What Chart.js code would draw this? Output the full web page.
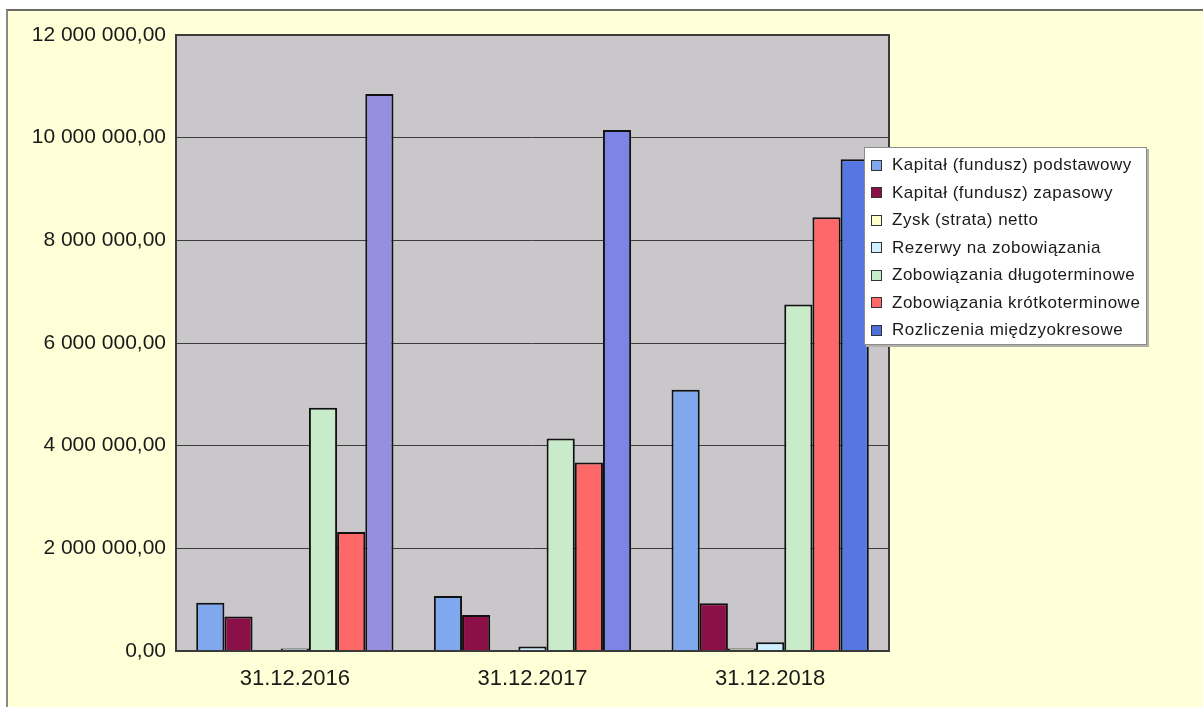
<!DOCTYPE html>
<html lang="pl">
<head>
<meta charset="utf-8">
<title>Pasywa</title>
<script src="https://cdn.jsdelivr.net/npm/chart.js@4.4.1/dist/chart.umd.min.js"></script>
<style>
    html, body { margin: 0; padding: 0; background: #fff; }
    body { width: 1203px; height: 707px; position: relative; overflow: hidden; font-family: "Liberation Sans", Arial, sans-serif; }
    .frame { position: absolute; left: 6px; top: 9px; right: 0; bottom: 0; background: #ffffd8; border-top: 2px solid #6a6a62; border-left: 2px solid #8a8a80; }
    #chart { position: absolute; left: 0; top: 0; }
    .legend { position: absolute; left: 864px; top: 147px; width: 281px; height: 196px; background: #fff; border: 1px solid #8c8c8c; box-shadow: 2px 2px 0 #b0b0a8; }
    .legend-item { position: absolute; left: 0; height: 20px; display: flex; align-items: center; font-size: 17px; color: #1a1a1a; letter-spacing: 0.5px; white-space: nowrap; }
    .legend-color { width: 9px; height: 9px; border: 1px solid #333; margin: 0 10px 0 6px; }
</style>
</head>
<body>
<div class="frame"></div>
<canvas id="chart" width="1203" height="707"></canvas>
<div class="legend" id="legend"></div>
<script>
// --- Data ---
const categories = ['31.12.2016', '31.12.2017', '31.12.2018'];
const seriesNames = [
    'Kapitał (fundusz) podstawowy',
    'Kapitał (fundusz) zapasowy',
    'Zysk (strata) netto',
    'Rezerwy na zobowiązania',
    'Zobowiązania długoterminowe',
    'Zobowiązania krótkoterminowe',
    'Rozliczenia międzyokresowe'
];
const kapitalPodstawowy = [940000, 1070000, 5090000];
const kapitalZapasowy = [670000, 700000, 930000];
const zyskNetto = [20000, 20000, 50000];
const rezerwy = [50000, 90000, 170000];
const zobDlugoterminowe = [4740000, 4140000, 6750000];
const zobKrotkoterminowe = [2320000, 3670000, 8450000];
const rozliczenia = [10850000, 10150000, 9580000];
const yTicks = [0, 2000000, 4000000, 6000000, 8000000, 10000000, 12000000];

// --- Styles ---
const seriesColors = ['#80a8ee', '#8c1048', '#ffffcc', '#ccf0ff', '#c8ecca', '#ff6868', '#4c70da'];
const rozliczeniaColors = ['#968fe0', '#7c84e6', '#5676e2'];

const seriesValues = [kapitalPodstawowy, kapitalZapasowy, zyskNetto, rezerwy,
    zobDlugoterminowe, zobKrotkoterminowe, rozliczenia];

function formatPl(v) {
    const s = Math.round(v).toString().replace(/\B(?=(\d{3})+(?!\d))/g, ' ');
    return s + ',00';
}

// plot background + frame of the plot area
const plotArea = {
    id: 'plotArea',
    beforeDraw(chart) {
        const { ctx, chartArea: a } = chart;
        ctx.save();
        ctx.fillStyle = '#c9c7c9';
        ctx.fillRect(a.left, a.top, a.right - a.left, a.bottom - a.top);
        ctx.restore();
    },
    afterDraw(chart) {
        const { ctx, chartArea: a } = chart;
        ctx.save();
        ctx.strokeStyle = '#3a3a3a';
        ctx.lineWidth = 2;
        ctx.strokeRect(a.left, a.top, a.right - a.left, a.bottom - a.top);
        ctx.restore();
    }
};

const FONT = '"Liberation Sans", Arial, sans-serif';

new Chart(document.getElementById('chart').getContext('2d'), {
    type: 'bar',
    data: {
        labels: categories,
        datasets: seriesNames.map((name, i) => ({
            label: name,
            data: seriesValues[i],
            backgroundColor: i === 6 ? rozliczeniaColors : seriesColors[i],
            borderColor: '#111',
            borderWidth: 2,
            categoryPercentage: 0.83,
            barPercentage: 1
        }))
    },
    options: {
        responsive: false,
        animation: false,
        layout: { padding: { left: 0, top: 35, right: 314, bottom: 0 } },
        plugins: {
            legend: { display: false },
            tooltip: { enabled: false }
        },
        scales: {
            x: {
                grid: { display: false },
                border: { display: false },
                ticks: { color: '#1a1a1a', font: { family: FONT, size: 22 }, padding: 7 },
                afterFit(scale) { scale.height = 56; }
            },
            y: {
                min: 0,
                max: 12000000,
                afterBuildTicks(scale) { scale.ticks = yTicks.map(v => ({ value: v })); },
                grid: { color: '#3c3c3c', lineWidth: 1, drawTicks: false },
                border: { display: false },
                ticks: {
                    color: '#1a1a1a',
                    font: { family: FONT, size: 21 },
                    padding: 10,
                    callback: v => formatPl(v)
                },
                afterFit(scale) { scale.width = 176; }
            }
        }
    },
    plugins: [plotArea]
});

// --- Legend ---
const legend = document.getElementById('legend');
seriesNames.forEach((name, i) => {
    const item = document.createElement('div');
    item.className = 'legend-item';
    item.style.top = (7 + i * 27.5) + 'px';
    item.innerHTML = `<span class="legend-color" style="background-color: ${seriesColors[i]}"></span><span>${name}</span>`;
    legend.appendChild(item);
});
</script>
</body>
</html>
